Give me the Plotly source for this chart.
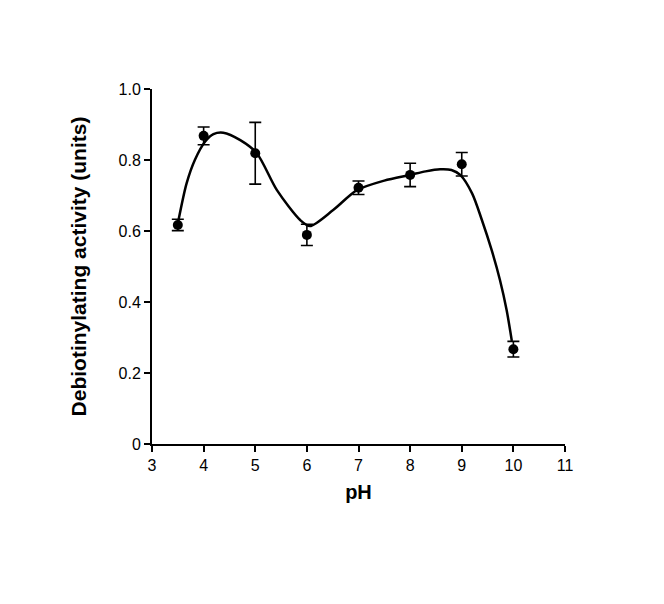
import plotly.graph_objects as go

# Measured points
ph = [3.5, 4, 5, 6, 7, 8, 9, 10]
activity = [0.617, 0.868, 0.819, 0.589, 0.722, 0.758, 0.788, 0.267]
err = [0.016, 0.025, 0.087, 0.030, 0.019, 0.033, 0.033, 0.022]

# Fitted curve
curve_x = [3.51, 3.67, 3.83, 4.03, 4.19, 4.38, 4.71, 5.03, 5.42, 5.87, 6.06, 6.51, 6.97, 7.5, 8.0, 8.3, 8.58, 8.8, 8.97, 9.20, 9.39, 9.58, 9.74, 9.87, 9.97]
curve_y = [0.628, 0.734, 0.800, 0.852, 0.873, 0.877, 0.856, 0.819, 0.715, 0.631, 0.614, 0.659, 0.715, 0.742, 0.758, 0.768, 0.774, 0.772, 0.758, 0.706, 0.631, 0.546, 0.462, 0.377, 0.290]

y_ticks = [0, 0.2, 0.4, 0.6, 0.8, 1.0]
y_ticktext = ["0", "0.2", "0.4", "0.6", "0.8", "1.0"]
x_ticks = [3, 4, 5, 6, 7, 8, 9, 10, 11]

fig = go.Figure()
fig.add_trace(go.Scatter(
    x=curve_x, y=curve_y, mode="lines",
    line=dict(color="black", width=2.5, shape="spline", smoothing=0.8),
    hoverinfo="skip", showlegend=False,
))
fig.add_trace(go.Scatter(
    x=ph, y=activity, mode="markers",
    marker=dict(color="black", size=10, symbol="circle"),
    error_y=dict(type="data", array=err, visible=True, color="black", thickness=1.6, width=6),
    showlegend=False,
))

font = "Liberation Sans, Arial, sans-serif"
fig.update_layout(
    width=664, height=604,
    margin=dict(l=144, r=107, t=81, b=168),
    plot_bgcolor="white", paper_bgcolor="white",
    font=dict(family=font, color="black", size=16),
    xaxis=dict(
        range=[3, 11], tickvals=x_ticks, showgrid=False, zeroline=False,
        showline=True, linecolor="black", linewidth=2,
        ticks="outside", ticklen=6, tickwidth=2, tickcolor="black",
        tickfont=dict(size=16),
        title=dict(text="<b>pH</b>", font=dict(size=20), standoff=12),
    ),
    yaxis=dict(
        range=[0, 1.0], tickvals=y_ticks, ticktext=y_ticktext, showgrid=False, zeroline=False,
        showline=True, linecolor="black", linewidth=2,
        ticks="outside", ticklen=6, tickwidth=2, tickcolor="black",
        tickfont=dict(size=16),
        title=dict(text="<b>Debiotinylating activity (units)</b>", font=dict(size=21), standoff=26),
    ),
)

fig.write_html("out.html")
